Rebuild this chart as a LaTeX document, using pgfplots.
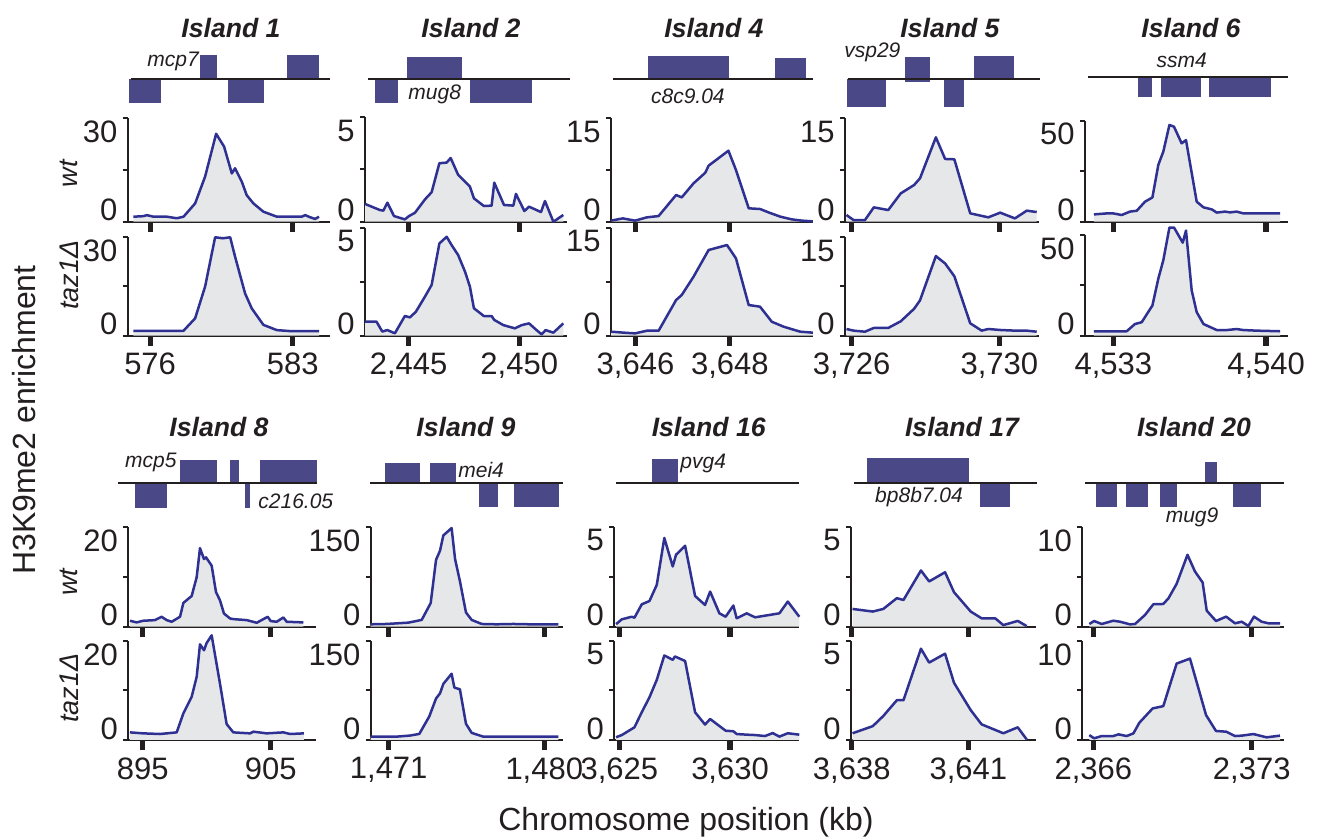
\documentclass[border=0pt]{standalone}
\usepackage{pgfplots}
\pgfplotsset{compat=1.18}
\usepackage{pgfplotstable}
\usepackage{fontspec}
\setmainfont{Liberation Sans}
\definecolor{sigblue}{RGB}{46,49,146}
\definecolor{fillgray}{RGB}{230,231,232}
\definecolor{genecol}{RGB}{75,72,135}
\definecolor{txt}{RGB}{35,31,32}
\newcommand\tickfont{\fontsize{15.5}{16}\selectfont}
\newcommand\titlefont{\fontsize{13.3}{14}\selectfont\bfseries\itshape}
\newcommand\genefont{\fontsize{10.5}{11}\selectfont\itshape}
\newcommand\condfont{\fontsize{13.5}{14}\selectfont\itshape}
\newcommand\labfont{\fontsize{16}{17}\selectfont}
\pgfplotsset{
 chip/.style={scale only axis, axis x line=bottom, axis y line=left,
   axis line style={line width=1pt,-,color=txt}, tick align=outside,
   major tick length=5pt, minor tick length=2.5pt,
   major x tick style={line width=2.6pt, color=txt},
   major y tick style={draw=none},
   minor y tick style={line width=1pt, color=txt},
   extra y tick style={tick style={draw=none}, yticklabel style={anchor=north east, yshift=-1pt}},
   ymin=0, clip=false,
   /pgf/number format/assume math mode=true,
   every tick label/.append style={font=\tickfont, text=txt},
   xticklabel style={inner sep=0pt, yshift=-3.5pt},
   yticklabel style={inner sep=0pt, anchor=south east},
   ytick={0}, yticklabels={0}},
 yax/.style n args={2}{ymax=#2, minor ytick={0,#1,#2}, extra y ticks={#2}, extra y tick labels={#2}},
 nolab/.style={xticklabels={\mbox{},\mbox{}}},
 track/.style={scale only axis, hide axis, height=24pt, ymin=-1, ymax=1, clip=false},
 sig/.style={draw=sigblue, line width=1.25pt, line join=round, no marks},
 sigfill/.style={fill=fillgray, draw=none, no marks},
}
\tikzset{trackline/.style={draw=txt, line width=1pt},
 genelab/.style={font=\genefont, text=txt, inner sep=0pt}}

% ---------- Island 1
\pgfplotstableread{
x y
575.18 1.45
575.67 1.6
575.84 1.9
576.16 1.45
576.82 1.45
577.31 1.0
577.64 1.45
578.21 5.3
578.70 13.1
579.24 25.5
579.63 21.8
580.01 14.0
580.17 15.5
580.50 11.6
580.74 7.7
581.07 5.3
581.56 2.9
582.22 1.45
582.87 1.45
583.44 1.45
583.61 1.9
583.85 1.3
584.10 0.8
584.29 1.45
}\tIw
\pgfplotstableread{
x y
575.18 1.5
577.64 1.5
578.21 5.3
578.70 15.0
579.19 30
579.57 29.7
579.93 30
580.17 24.1
580.66 12.9
580.99 8.3
581.56 3.3
582.22 1.7
582.87 1.4
584.29 1.4
}\tIt
% ---------- Island 2
\pgfplotstableread{
x y
2443.03 0.85
2443.40 0.69
2443.70 0.56
2443.86 0.53
2444.04 0.91
2444.34 0.27
2444.83 0.11
2445.02 0.27
2445.29 0.43
2445.74 1.07
2446.04 1.41
2446.39 2.80
2446.72 2.83
2446.90 3.05
2447.24 2.24
2447.77 1.68
2447.95 1.12
2448.40 0.75
2448.75 0.77
2448.87 1.87
2449.31 0.80
2449.73 0.77
2449.85 1.33
2450.23 0.51
2450.44 0.72
2450.98 0.46
2451.16 0.99
2451.54 0.00
2451.99 0.32
}\tIIw
\pgfplotstableread{
x y
2443.03 0.65
2443.55 0.65
2443.81 0.19
2444.04 0.26
2444.38 0.11
2444.83 0.91
2445.06 0.85
2445.33 1.11
2445.74 1.81
2446.04 2.35
2446.39 4.27
2446.72 4.58
2446.94 4.20
2447.24 3.73
2447.55 2.96
2447.77 2.27
2447.95 1.27
2448.40 0.91
2448.75 0.91
2448.87 0.73
2449.28 0.49
2449.80 0.34
2450.11 0.49
2450.44 0.57
2450.78 0.26
2451.01 0.06
2451.19 0.26
2451.54 0.14
2451.99 0.57
}\tIIt
% ---------- Island 4
\pgfplotstableread{
x y
3645.48 0.15
3645.73 0.48
3645.99 0.15
3646.24 0.63
3646.49 0.82
3646.86 3.87
3646.98 3.53
3647.23 5.56
3647.48 7.11
3647.55 8.13
3647.97 10.30
3648.13 7.50
3648.40 1.94
3648.64 1.84
3648.82 1.35
3649.07 0.73
3649.31 0.34
3649.53 0.15
3649.76 0.05
}\tIVw
\pgfplotstableread{
x y
3645.48 0.56
3645.75 0.42
3645.99 0.32
3646.24 0.69
3646.49 0.69
3646.86 4.95
3646.98 5.65
3647.23 8.19
3647.55 11.90
3647.94 12.59
3648.13 10.74
3648.40 4.26
3648.64 4.03
3648.89 1.94
3649.14 1.25
3649.49 0.56
3649.76 0.42
}\tIVt
% ---------- Island 5
\pgfplotstableread{
x y
3725.86 0.97
3726.05 0.24
3726.36 0.24
3726.60 2.08
3726.99 1.69
3727.33 4.11
3727.69 5.32
3727.85 6.29
3728.28 12.24
3728.53 9.10
3728.78 9.05
3729.21 1.21
3729.70 0.63
3730.02 1.31
3730.42 0.48
3730.74 1.60
3731.01 1.40
}\tVw
\pgfplotstableread{
x y
3725.86 1.02
3726.05 0.77
3726.36 0.61
3726.60 1.18
3726.99 1.18
3727.33 2.20
3727.69 4.10
3727.85 5.38
3728.28 12.14
3728.53 11.01
3728.78 9.06
3729.21 1.89
3729.52 0.77
3729.70 1.02
3730.02 0.87
3730.42 0.77
3730.74 0.77
3731.01 0.61
}\tVt
% ---------- Island 6
\pgfplotstableread{
x y
4532.11 3.6
4532.69 4.1
4533.00 4.1
4533.38 3.3
4533.76 5.0
4534.07 5.4
4534.45 9.9
4534.79 12.0
4535.06 28.1
4535.29 34.7
4535.57 47.9
4535.78 47.0
4536.13 38.8
4536.33 40.4
4536.82 9.9
4537.13 7.1
4537.51 6.1
4537.74 4.5
4538.12 5.0
4538.35 4.6
4538.65 5.0
4538.96 4.1
4540.64 4.1
}\tVIw
\pgfplotstableread{
x y
4532.11 2.2
4533.61 2.2
4533.99 5.8
4534.30 6.7
4534.79 15.0
4535.06 28.3
4535.29 37.5
4535.57 53.7
4535.78 53.7
4536.18 46.2
4536.33 52.2
4536.59 22.5
4536.82 11.7
4537.13 5.8
4537.74 2.8
4538.20 2.8
4538.65 3.3
4538.96 2.8
4539.57 2.5
4540.64 2.2
}\tVIt
% ---------- Island 8
\pgfplotstableread{
x y
894.01 1.19
894.53 0.86
895.05 1.19
895.96 1.32
896.48 1.99
896.88 1.32
897.27 0.99
897.92 1.99
898.18 4.77
898.83 6.16
899.22 9.93
899.48 15.76
899.79 13.58
899.95 13.91
900.39 12.25
900.73 6.95
901.04 5.30
901.35 2.65
901.82 1.66
902.08 1.52
903.13 1.32
903.91 0.79
904.43 1.52
904.77 1.99
905.00 1.13
905.47 0.99
905.99 1.85
906.25 0.99
907.55 0.86
}\tVIIIw
\pgfplotstableread{
x y
894.01 1.54
895.05 1.34
896.35 1.21
897.66 1.54
898.18 5.37
898.83 8.72
899.22 12.75
899.48 19.33
899.79 18.12
900.00 19.60
900.39 21.14
901.04 11.41
901.56 3.22
902.08 1.54
903.39 1.34
903.65 1.68
904.69 1.34
905.99 1.54
906.51 1.21
907.60 1.34
}\tVIIIt
% ---------- Island 9
\pgfplotstableread{
x y
1469.96 3.6
1470.88 4.1
1472.14 6.1
1472.91 10.2
1473.43 35.6
1473.74 100.7
1473.97 114.4
1474.16 137.3
1474.64 148.4
1474.84 101.7
1475.12 68.6
1475.47 21.4
1475.80 10.2
1476.38 4.1
1477.24 3.6
1478.21 4.1
1479.17 3.6
1480.81 3.6
}\tIXw
\pgfplotstableread{
x y
1469.96 5.1
1471.46 5.1
1472.23 6.7
1472.77 9.2
1473.35 35.8
1473.74 63.0
1473.97 70.7
1474.16 85.0
1474.64 100.4
1474.80 79.4
1475.12 76.8
1475.47 24.6
1475.80 10.8
1476.47 5.1
1480.81 5.1
}\tIXt
% ---------- Island 16
\pgfplotstableread{
x y
3624.85 0.13
3625.11 0.37
3625.56 0.50
3625.68 0.45
3626.01 1.12
3626.36 1.29
3626.69 2.10
3627.03 4.45
3627.41 3.02
3627.56 3.61
3627.97 4.06
3628.42 1.54
3628.87 1.09
3629.10 1.76
3629.52 0.67
3629.80 0.50
3630.15 1.06
3630.30 0.42
3630.75 0.67
3631.13 0.47
3631.51 0.54
3632.23 0.67
3632.61 1.26
3633.13 0.50
}\tXVIw
\pgfplotstableread{
x y
3624.85 0.14
3625.11 0.25
3625.68 0.64
3626.01 1.40
3626.36 2.16
3626.69 3.04
3627.03 4.27
3627.41 4.05
3627.51 4.22
3627.97 3.99
3628.42 1.40
3628.87 0.78
3629.10 1.06
3629.80 0.47
3630.15 0.44
3630.30 0.30
3630.75 0.27
3631.13 0.25
3631.58 0.20
3631.93 0.35
3632.23 0.17
3632.61 0.34
3633.13 0.27
}\tXVIt
% ---------- Island 17
\pgfplotstableread{
x y
3638.02 0.89
3638.54 0.76
3638.81 0.89
3639.16 1.43
3639.33 1.34
3639.78 2.82
3639.99 2.27
3640.40 2.73
3640.63 1.73
3641.06 0.76
3641.34 0.42
3641.69 0.42
3641.90 0.08
3642.27 0.29
3642.50 0.03
}\tXVIIw
\pgfplotstableread{
x y
3638.02 0.34
3638.54 0.70
3638.81 1.21
3639.16 2.01
3639.33 2.01
3639.78 4.61
3639.99 3.91
3640.40 4.36
3640.63 2.89
3641.06 1.51
3641.34 0.79
3641.90 0.34
3642.27 0.64
3642.50 0.03
}\tXVIIt
% ---------- Island 20
\pgfplotstableread{
x y
2365.82 0.27
2366.03 0.57
2366.37 0.27
2366.88 0.60
2367.18 0.50
2367.62 0.23
2367.84 0.27
2368.28 1.17
2368.65 2.25
2369.09 2.28
2369.32 2.85
2369.68 4.30
2370.16 7.21
2370.49 5.54
2370.83 4.43
2371.01 1.61
2371.42 0.57
2371.87 1.01
2372.26 0.34
2372.56 0.50
2372.85 0.07
2373.10 1.01
2373.44 0.50
2373.74 0.34
2374.25 0.34
}\tXXw
\pgfplotstableread{
x y
2365.82 0.50
2366.03 0.17
2366.37 0.40
2366.88 0.40
2367.11 0.57
2367.47 0.40
2367.77 0.67
2368.03 1.74
2368.62 3.19
2369.09 3.42
2369.68 7.72
2370.27 8.22
2370.98 2.52
2371.42 0.91
2371.87 0.84
2372.26 0.40
2372.56 0.44
2373.07 0.60
2373.66 0.27
2374.25 0.44
}\tXXt

\begin{document}
\begin{tikzpicture}
\useasboundingbox (0,0) rectangle (658.5pt,420pt);

% ======================= ROW 1 =======================
% ---- Island 1
\begin{axis}[track, at={(63.85pt,368.5pt)}, anchor=south west, width=101.15pt, xmin=574.90, xmax=584.83]
\fill[genecol] (axis cs:578.45,0) rectangle (axis cs:579.29,1);
\fill[genecol] (axis cs:582.72,0) rectangle (axis cs:584.29,1);
\fill[genecol] (axis cs:574.96,-1) rectangle (axis cs:576.53,0);
\fill[genecol] (axis cs:579.82,-1) rectangle (axis cs:581.59,0);
\draw[trackline] (axis cs:575.06,0) -- (axis cs:584.83,0);
\node[genelab, anchor=east] at (axis cs:578.41,0.71) {mcp7};
\end{axis}
\begin{axis}[chip, nolab, yax={15}{30}, at={(63.85pt,309.15pt)}, anchor=south west, width=101.15pt, height=51.7pt,
  xmin=574.90, xmax=584.83, xtick={576,583}]
\addplot[sigfill] table {\tIw} \closedcycle;
\addplot[sig] table {\tIw};
\end{axis}
\begin{axis}[chip, yax={15}{30}, at={(63.85pt,252.15pt)}, anchor=south west, width=101.15pt, height=49.2pt,
  xmin=574.90, xmax=584.83, xtick={576,583}, xticklabels={576,583}]
\addplot[sigfill] table {\tIt} \closedcycle;
\addplot[sig] table {\tIt};
\end{axis}

% ---- Island 2
\begin{axis}[track, at={(182.5pt,368.35pt)}, anchor=south west, width=101.15pt, xmin=2443.03, xmax=2452.17]
\fill[genecol] (axis cs:2444.93,0) rectangle (axis cs:2447.41,0.92);
\fill[genecol] (axis cs:2443.48,-0.97) rectangle (axis cs:2444.52,0);
\fill[genecol] (axis cs:2447.77,-0.97) rectangle (axis cs:2450.58,0);
\draw[trackline] (axis cs:2443.17,0) -- (axis cs:2452.30,0);
\node[genelab] at (axis cs:2446.18,-0.63) {mug8};
\end{axis}
\begin{axis}[chip, nolab, yax={2.5}{5}, at={(182.5pt,309.15pt)}, anchor=south west, width=101.15pt, height=52.2pt,
  xmin=2443.03, xmax=2452.17, xtick={2445,2450}]
\addplot[sigfill] table {\tIIw} \closedcycle;
\addplot[sig] table {\tIIw};
\end{axis}
\begin{axis}[chip, yax={2.5}{5}, at={(182.5pt,252.15pt)}, anchor=south west, width=101.15pt, height=54pt,
  xmin=2443.03, xmax=2452.17, xtick={2445,2450}, xticklabels={{2,445},{2,450}}]
\addplot[sigfill] table {\tIIt} \closedcycle;
\addplot[sig] table {\tIIt};
\end{axis}

% ---- Island 4
\begin{axis}[track, at={(305.5pt,368.35pt)}, anchor=south west, width=101.15pt, xmin=3645.48, xmax=3649.77]
\fill[genecol] (axis cs:3646.26,0) rectangle (axis cs:3647.98,0.97);
\fill[genecol] (axis cs:3648.96,0) rectangle (axis cs:3649.61,0.89);
\draw[trackline] (axis cs:3645.52,0) -- (axis cs:3649.76,0);
\node[genelab] at (axis cs:3647.11,-0.72) {c8c9.04};
\end{axis}
\begin{axis}[chip, nolab, yax={7.5}{15}, at={(305.5pt,309.15pt)}, anchor=south west, width=101.15pt, height=51.7pt,
  xmin=3645.48, xmax=3649.77, xtick={3646,3648}]
\addplot[sigfill] table {\tIVw} \closedcycle;
\addplot[sig] table {\tIVw};
\end{axis}
\begin{axis}[chip, yax={7.5}{15}, at={(305.5pt,252.15pt)}, anchor=south west, width=101.15pt, height=54pt,
  xmin=3645.48, xmax=3649.77, xtick={3646,3648}, xticklabels={{3,646},{3,648}}]
\addplot[sigfill] table {\tIVt} \closedcycle;
\addplot[sig] table {\tIVt};
\end{axis}

% ---- Island 5
\begin{axis}[track, at={(422.5pt,368.35pt)}, anchor=south west, width=97.15pt, xmin=3725.82, xmax=3731.08]
\fill[genecol] (axis cs:3727.45,-0.1) rectangle (axis cs:3728.12,0.92);
\fill[genecol] (axis cs:3729.31,0) rectangle (axis cs:3730.39,0.97);
\fill[genecol] (axis cs:3725.87,-1.14) rectangle (axis cs:3726.93,0);
\fill[genecol] (axis cs:3728.50,-1.14) rectangle (axis cs:3729.04,0);
\draw[trackline] (axis cs:3725.90,0) -- (axis cs:3731.10,0);
\node[genelab] at (axis cs:3726.56,1.13) {vsp29};
\end{axis}
\begin{axis}[chip, nolab, yax={7.5}{15}, at={(422.5pt,309.15pt)}, anchor=south west, width=97.15pt, height=51.7pt,
  xmin=3725.82, xmax=3731.08, xtick={3726,3730}]
\addplot[sigfill] table {\tVw} \closedcycle;
\addplot[sig] table {\tVw};
\end{axis}
\begin{axis}[chip, yax={7.5}{15}, at={(422.5pt,252.15pt)}, anchor=south west, width=97.15pt, height=49.2pt,
  xmin=3725.82, xmax=3731.08, xtick={3726,3730}, xticklabels={{3,726},{3,730}}]
\addplot[sigfill] table {\tVt} \closedcycle;
\addplot[sig] table {\tVt};
\end{axis}

% ---- Island 6
\begin{axis}[track, at={(542.5pt,369.35pt)}, anchor=south west, width=101.65pt, xmin=4531.70, xmax=4541.02]
\fill[genecol] (axis cs:4534.13,-0.81) rectangle (axis cs:4534.77,0);
\fill[genecol] (axis cs:4535.18,-0.81) rectangle (axis cs:4537.02,0);
\fill[genecol] (axis cs:4537.39,-0.81) rectangle (axis cs:4540.23,0);
\draw[trackline] (axis cs:4531.84,0) -- (axis cs:4541.01,0);
\node[genelab] at (axis cs:4536.13,0.72) {ssm4};
\end{axis}
\begin{axis}[chip, nolab, yax={25}{50}, at={(542.5pt,309.15pt)}, anchor=south west, width=101.65pt, height=50.5pt,
  xmin=4531.70, xmax=4541.02, xtick={4533,4540}]
\addplot[sigfill] table {\tVIw} \closedcycle;
\addplot[sig] table {\tVIw};
\end{axis}
\begin{axis}[chip, yax={25}{50}, at={(542.5pt,252.15pt)}, anchor=south west, width=101.65pt, height=50.35pt,
  xmin=4531.70, xmax=4541.02, xtick={4533,4540}, xticklabels={{4,533},{4,540}}]
\addplot[sigfill] table {\tVIt} \closedcycle;
\addplot[sig] table {\tVIt};
\end{axis}

% ======================= ROW 2 =======================
% ---- Island 8
\begin{axis}[track, at={(64.15pt,166.65pt)}, anchor=south west, width=93.85pt, xmin=893.88, xmax=908.54]
\fill[genecol] (axis cs:897.92,0) rectangle (axis cs:900.81,0.95);
\fill[genecol] (axis cs:901.83,0) rectangle (axis cs:902.53,0.95);
\fill[genecol] (axis cs:904.17,0) rectangle (axis cs:908.62,0.95);
\fill[genecol] (axis cs:894.40,-1.04) rectangle (axis cs:896.90,0);
\fill[genecol] (axis cs:903.00,-1.04) rectangle (axis cs:903.39,0);
\draw[trackline] (axis cs:893.08,0) -- (axis cs:908.62,0);
\node[genelab, anchor=east] at (axis cs:897.68,0.86) {mcp5};
\node[genelab, anchor=west] at (axis cs:904.01,-0.76) {c216.05};
\end{axis}
\begin{axis}[chip, nolab, yax={10}{20}, at={(64.15pt,106.65pt)}, anchor=south west, width=93.85pt, height=49.85pt,
  xmin=893.88, xmax=908.54, xtick={895,905}]
\addplot[sigfill] table {\tVIIIw} \closedcycle;
\addplot[sig] table {\tVIIIw};
\end{axis}
\begin{axis}[chip, yax={10}{20}, at={(64.15pt,50pt)}, anchor=south west, width=93.85pt, height=49.5pt,
  xmin=893.88, xmax=908.54, xtick={895,905}, xticklabels={895,905}]
\addplot[sigfill] table {\tVIIIt} \closedcycle;
\addplot[sig] table {\tVIIIt};
\end{axis}

% ---- Island 9
\begin{axis}[track, at={(185.35pt,166.65pt)}, anchor=south west, width=96.3pt, xmin=1469.96, xmax=1481.10]
\fill[genecol] (axis cs:1470.81,0) rectangle (axis cs:1472.83,0.83);
\fill[genecol] (axis cs:1473.41,0) rectangle (axis cs:1474.92,0.83);
\fill[genecol] (axis cs:1476.22,-1.0) rectangle (axis cs:1477.32,0);
\fill[genecol] (axis cs:1478.25,-1.0) rectangle (axis cs:1480.85,0);
\draw[trackline] (axis cs:1469.94,0) -- (axis cs:1481.10,0);
\node[genelab, anchor=west] at (axis cs:1475.01,0.53) {mei4};
\end{axis}
\begin{axis}[chip, nolab, yax={75}{150}, at={(185.35pt,106.65pt)}, anchor=south west, width=96.3pt, height=49.85pt,
  xmin=1469.96, xmax=1481.10, xtick={1471,1480}]
\addplot[sigfill] table {\tIXw} \closedcycle;
\addplot[sig] table {\tIXw};
\end{axis}
\begin{axis}[chip, yax={75}{150}, at={(185.35pt,50pt)}, anchor=south west, width=96.3pt, height=49.5pt,
  xmin=1469.96, xmax=1481.10, xtick={1471,1480}, xticklabels={{1,471},{1,480}}]
\addplot[sigfill] table {\tIXt} \closedcycle;
\addplot[sig] table {\tIXt};
\end{axis}

% ---- Island 16
\begin{axis}[track, at={(307.15pt,166.65pt)}, anchor=south west, width=92.5pt, xmin=3624.77, xmax=3633.13]
\fill[genecol] (axis cs:3626.48,0) rectangle (axis cs:3627.65,0.99);
\draw[trackline] (axis cs:3624.85,0) -- (axis cs:3633.12,0);
\node[genelab, anchor=west] at (axis cs:3627.74,0.82) {pvg4};
\end{axis}
\begin{axis}[chip, nolab, yax={2.5}{5}, at={(307.15pt,106.65pt)}, anchor=south west, width=92.5pt, height=49.85pt,
  xmin=3624.77, xmax=3633.13, xtick={3625,3630}]
\addplot[sigfill] table {\tXVIw} \closedcycle;
\addplot[sig] table {\tXVIw};
\end{axis}
\begin{axis}[chip, yax={2.5}{5}, at={(307.15pt,50pt)}, anchor=south west, width=92.5pt, height=49.5pt,
  xmin=3624.77, xmax=3633.13, xtick={3625,3630}, xticklabels={{3,625},{3,630}}]
\addplot[sigfill] table {\tXVIt} \closedcycle;
\addplot[sig] table {\tXVIt};
\end{axis}

% ---- Island 17
\begin{axis}[track, at={(425.5pt,166.65pt)}, anchor=south west, width=92.5pt, xmin=3637.98, xmax=3642.74]
\fill[genecol] (axis cs:3638.39,0) rectangle (axis cs:3641.02,1.01);
\fill[genecol] (axis cs:3641.30,-1.0) rectangle (axis cs:3642.07,0);
\draw[trackline] (axis cs:3638.06,0) -- (axis cs:3642.77,0);
\node[genelab] at (axis cs:3639.73,-0.6) {bp8b7.04};
\end{axis}
\begin{axis}[chip, nolab, yax={2.5}{5}, at={(425.5pt,106.65pt)}, anchor=south west, width=92.5pt, height=49.85pt,
  xmin=3637.98, xmax=3642.74, xtick={3638,3641}]
\addplot[sigfill] table {\tXVIIw} \closedcycle;
\addplot[sig] table {\tXVIIw};
\end{axis}
\begin{axis}[chip, yax={2.5}{5}, at={(425.5pt,50pt)}, anchor=south west, width=92.5pt, height=49.5pt,
  xmin=3637.98, xmax=3642.74, xtick={3638,3641}, xticklabels={{3,638},{3,641}}]
\addplot[sigfill] table {\tXVIIt} \closedcycle;
\addplot[sig] table {\tXVIIt};
\end{axis}

% ---- Island 20
\begin{axis}[track, at={(541.15pt,166.65pt)}, anchor=south west, width=101pt, xmin=2365.51, xmax=2374.44]
\fill[genecol] (axis cs:2370.93,0) rectangle (axis cs:2371.46,0.875);
\fill[genecol] (axis cs:2366.11,-1.03) rectangle (axis cs:2367.04,0);
\fill[genecol] (axis cs:2367.44,-1.03) rectangle (axis cs:2368.41,0);
\fill[genecol] (axis cs:2368.94,-1.03) rectangle (axis cs:2369.69,0);
\fill[genecol] (axis cs:2372.17,-1.03) rectangle (axis cs:2373.41,0);
\draw[trackline] (axis cs:2365.63,0) -- (axis cs:2374.43,0);
\node[genelab] at (axis cs:2370.36,-1.46) {mug9};
\end{axis}
\begin{axis}[chip, nolab, yax={5}{10}, at={(541.15pt,106.65pt)}, anchor=south west, width=101pt, height=49.85pt,
  xmin=2365.51, xmax=2374.44, xtick={2366,2373}]
\addplot[sigfill] table {\tXXw} \closedcycle;
\addplot[sig] table {\tXXw};
\end{axis}
\begin{axis}[chip, yax={5}{10}, at={(541.15pt,50pt)}, anchor=south west, width=101pt, height=49.5pt,
  xmin=2365.51, xmax=2374.44, xtick={2366,2373}, xticklabels={{2,366},{2,373}}]
\addplot[sigfill] table {\tXXt} \closedcycle;
\addplot[sig] table {\tXXt};
\end{axis}

% ======================= TEXT =======================
\begin{scope}[every node/.style={text=txt}]
\node[font=\titlefont, anchor=base] at (115.5pt,401pt) {Island 1};
\node[font=\titlefont, anchor=base] at (235.5pt,401pt) {Island 2};
\node[font=\titlefont, anchor=base] at (357pt,401pt) {Island 4};
\node[font=\titlefont, anchor=base] at (475pt,401pt) {Island 5};
\node[font=\titlefont, anchor=base] at (595.5pt,401pt) {Island 6};
\node[font=\titlefont, anchor=base] at (109.5pt,201.5pt) {Island 8};
\node[font=\titlefont, anchor=base] at (233pt,201.5pt) {Island 9};
\node[font=\titlefont, anchor=base] at (354.35pt,201.5pt) {Island 16};
\node[font=\titlefont, anchor=base] at (481pt,201.5pt) {Island 17};
\node[font=\titlefont, anchor=base] at (597pt,201.5pt) {Island 20};
\node[font=\condfont, rotate=90] at (34.5pt,333pt) {wt};
\node[font=\condfont, rotate=90] at (34.5pt,282.5pt) {taz1Δ};
\node[font=\condfont, rotate=90] at (34.5pt,129pt) {wt};
\node[font=\condfont, rotate=90] at (34.5pt,76pt) {taz1Δ};
\node[font=\labfont, rotate=90] at (12pt,210pt) {H3K9me2 enrichment};
\node[font=\labfont] at (343pt,9pt) {Chromosome position (kb)};
\end{scope}
\end{tikzpicture}
\end{document}
